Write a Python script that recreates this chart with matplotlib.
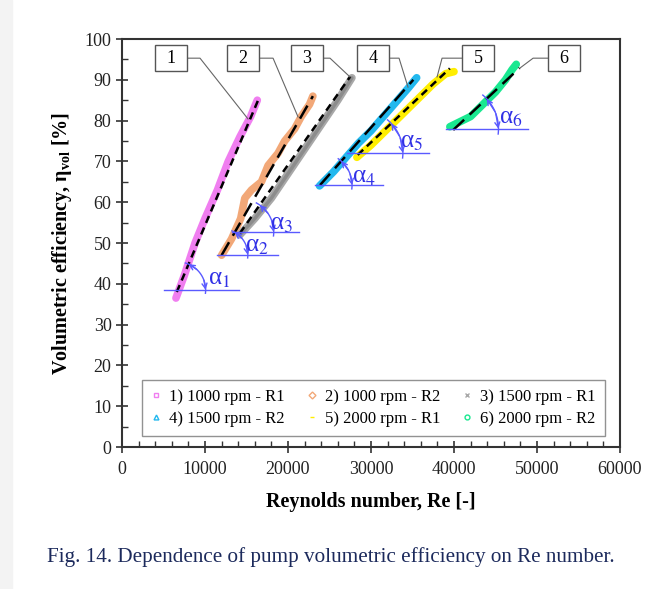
import numpy as np
import matplotlib
matplotlib.use("Agg")
import matplotlib.pyplot as plt
from matplotlib.lines import Line2D
from matplotlib.patches import Rectangle
from matplotlib.ticker import MultipleLocator

plt.rcParams["font.family"] = ["Liberation Serif", "DejaVu Serif"]
plt.rcParams["mathtext.fontset"] = "stix"

# measured series (Re, eta_vol)
labels = ["1) 1000 rpm - R1", "2) 1000 rpm - R2", "3) 1500 rpm - R1",
          "4) 1500 rpm - R2", "5) 2000 rpm - R1", "6) 2000 rpm - R2"]
colors = ["#f07ef0", "#f2a878", "#a8a8a8", "#22b8ee", "#ffee00", "#19e890"]
markers = ["s", "D", "x", "^", "_", "o"]

re_1 = [6500, 7500, 8800, 10000, 11500, 12800, 14200, 15500, 16300]
eta_1 = [36.5, 42, 50, 56, 63, 70, 76, 81, 85]
re_2 = [12000, 13200, 14300, 14800, 15600, 16800, 17600, 18800, 19600, 20800, 21600, 22600, 23000]
eta_2 = [47, 51, 56, 61, 63, 65, 69, 72, 75, 78, 81, 84, 86]
re_3 = [14200, 16000, 18000, 20000, 22000, 24000, 26000, 27700]
eta_3 = [52, 56, 61, 67, 73, 79, 85, 90.5]
re_4 = [23800, 25500, 27000, 28500, 30000, 31500, 33000, 34500, 35500]
eta_4 = [64, 67.5, 71, 74.5, 77.5, 81, 84.5, 88, 90.5]
re_5 = [28300, 30000, 31500, 33000, 34500, 36000, 37500, 39000, 40000]
eta_5 = [71, 74, 77, 80, 83, 86, 89, 91.5, 92]
re_6 = [39500, 40500, 42000, 43500, 45000, 46200, 47000, 47500]
eta_6 = [78.5, 79.5, 81, 84, 87, 90, 92.5, 93.8]
series_re = [re_1, re_2, re_3, re_4, re_5, re_6]
series_eta = [eta_1, eta_2, eta_3, eta_4, eta_5, eta_6]

# linear trend lines (start, end)
trend_re = [(6600, 16400), (12000, 23000), (14200, 27500),
            (23860, 35100), (28400, 39500), (39900, 47900)]
trend_eta = [(38, 85), (47, 86), (52.4, 90.8), (64.2, 90), (71.6, 92.8), (77.7, 92.9)]
trend_dash = [(3, 2), (6, 3), (3, 2), (6, 3), (3, 2), (6, 3)]

# angle markers: horizontal level, line extent, arc radius (px), label position
angle_eta = [38.5, 47.1, 52.7, 64.2, 72.1, 78.0]
angle_re_span = [(5060, 14100), (11450, 18800), (13260, 21330),
                 (23260, 31450), (27110, 36990), (39040, 48920)]
angle_r = [28, 26, 33, 32, 43, 44]
angle_lab_re = [11690, 16270, 19280, 29160, 34940, 46860]
angle_lab_eta = [41.2, 49.3, 54.7, 66.2, 74.8, 80.6]

# numbered callouts
box_re = [5900, 14580, 22290, 30250, 42900, 53260]
box_eta = 95.3
leader_re = [(9400, 15180), (18200, 21210), (25060, 27470),
             (33380, 34460), (38560, 37960), (49530, 47960)]
leader_eta = [80.4, 80.9, 90.7, 88.2, 90.7, 92.9]

W, H = 650, 589
fig = plt.figure(figsize=(W / 100, H / 100), dpi=100)
fig.patches.append(Rectangle((0, 0), 12 / W, 1, transform=fig.transFigure,
                             color="#f3f3f3", zorder=0))
ax = fig.add_axes([122 / W, (H - 447) / H, 498 / W, 408 / H])
ax.set_xlim(0, 60000)
ax.set_ylim(0, 100)
sx = 498 / 60000
sy = 408 / 100

for re, eta, c in zip(series_re, series_eta, colors):
    ax.plot(re, eta, color=c, lw=5.5, solid_capstyle="round",
            solid_joinstyle="round", zorder=2)
# darker core of the grey smear
ax.plot(re_3, eta_3, color="#8c8c8c", lw=2.5, solid_capstyle="round", zorder=2)

for (x0, x1), (y0, y1), d in zip(trend_re, trend_eta, trend_dash):
    ax.plot([x0, x1], [y0, y1], color="black", lw=1.8, dashes=d, zorder=3)

blue_line = "#5a5aff"
blue_text = "#3030e6"
for i in range(6):
    y = angle_eta[i]
    xa, xb = angle_re_span[i]
    ax.plot([xa, xb], [y, y], color=blue_line, lw=1, zorder=4)
    (x0, x1), (y0, y1) = trend_re[i], trend_eta[i]
    vx = x0 + (y - y0) * (x1 - x0) / (y1 - y0)
    th = np.arctan2((y1 - y0) * sy, (x1 - x0) * sx)
    r = angle_r[i]
    t = np.linspace(-0.12, th + 0.12, 60)
    ax.plot(vx + r * np.cos(t) / sx, y + r * np.sin(t) / sy,
            color=blue_line, lw=1, zorder=4)
    for a, b in [(0.35, 0.0), (th - 0.35, th)]:
        ax.annotate("", xy=(vx + r * np.cos(b) / sx, y + r * np.sin(b) / sy),
                    xytext=(vx + r * np.cos(a) / sx, y + r * np.sin(a) / sy),
                    arrowprops=dict(arrowstyle="->", color=blue_line, lw=1,
                                    mutation_scale=9, shrinkA=0, shrinkB=0),
                    zorder=4)
    ax.text(angle_lab_re[i], angle_lab_eta[i], "α$_{%d}$" % (i + 1),
            color=blue_text, fontsize=18, ha="center", va="center", zorder=5)

bw, bh = 32 / sx, 26 / sy
for i in range(6):
    ax.add_patch(Rectangle((box_re[i] - bw / 2, box_eta - bh / 2), bw, bh,
                           facecolor="white", edgecolor="#555555", lw=1, zorder=6))
    ax.text(box_re[i], box_eta, str(i + 1), fontsize=13, ha="center",
            va="center", zorder=7)
    edge = box_re[i] + bw / 2 if leader_re[i][0] > box_re[i] else box_re[i] - bw / 2
    ax.plot([edge, leader_re[i][0], leader_re[i][1]],
            [box_eta, box_eta, leader_eta[i]], color="#666666", lw=0.8, zorder=5)

handles = [Line2D([], [], ls="none", marker=m, color=c, markerfacecolor="none",
                  markersize=3.5, markeredgewidth=1)
           for m, c in zip(markers, colors)]
# legend fills column by column: reorder so rows read 1-2-3 / 4-5-6
order = [0, 3, 1, 4, 2, 5]
leg = ax.legend([handles[k] for k in order], [labels[k] for k in order],
                ncol=3, loc="lower center",
                bbox_to_anchor=(0.505, 0.027), borderaxespad=0,
                fontsize=12, frameon=True,
                fancybox=False, edgecolor="#777777", handlelength=0.6,
                handletextpad=0.5, columnspacing=1.3, borderpad=0.55,
                labelspacing=0.35)
leg.get_frame().set_linewidth(1)

ax.xaxis.set_major_locator(MultipleLocator(10000))
ax.xaxis.set_minor_locator(MultipleLocator(2000))
ax.yaxis.set_major_locator(MultipleLocator(10))
ax.yaxis.set_minor_locator(MultipleLocator(5))
ax.tick_params(which="major", direction="inout", length=8, width=1.2,
               labelsize=13, color="#333333", labelcolor="#222222")
ax.tick_params(which="minor", direction="in", length=4, width=1, color="#333333")
ax.tick_params(axis="x", pad=6)
for s in ax.spines.values():
    s.set_linewidth(1.5)
    s.set_color("#333333")

ax.set_xlabel("Reynolds number, Re [-]", fontsize=14.5, fontweight="bold",
              labelpad=10)
ax.set_ylabel(r"Volumetric efficiency, $\mathregular{\eta_{vol}}$ [%]",
              fontsize=14.5, fontweight="bold", labelpad=8)

fig.text(331 / W, (H - 557) / H,
         "Fig. 14. Dependence of pump volumetric efficiency on Re number.",
         ha="center", va="center", fontsize=15.2, color="#1c2a5c")

fig.savefig("out.png", dpi=100)
